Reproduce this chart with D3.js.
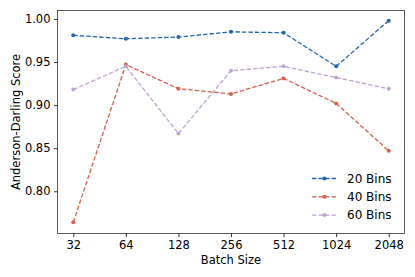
<!DOCTYPE html>
<html>
<head>
<meta charset="utf-8">
<style>
html, body { margin: 0; background: #fff; }
text { font-family: "DejaVu Sans", sans-serif; fill: #000; }
.axis text { font-size: 11.5px; }
.axis path, .axis line { stroke: #333; }
</style>
<script src="https://d3js.org/d3.v7.min.js"></script>
</head>
<body>
<svg width="415" height="277"></svg>
<script>
var batchSizes = [32, 64, 128, 256, 512, 1024, 2048];
var bins20 = [0.981, 0.977, 0.979, 0.985, 0.984, 0.945, 0.998];
var bins40 = [0.764, 0.947, 0.919, 0.913, 0.931, 0.902, 0.847];
var bins60 = [0.918, 0.945, 0.867, 0.940, 0.945, 0.932, 0.919];
var seriesNames = ["20 Bins", "40 Bins", "60 Bins"];
var seriesColors = ["#2166ac", "#d6604d", "#c2a5cf"];
var yTicks = [0.80, 0.85, 0.90, 0.95, 1.00];

var series = [bins20, bins40, bins60].map(function(v, i) {
  return { name: seriesNames[i], color: seriesColors[i], values: v };
});

var svg = d3.select("svg");
var plotLeft = 57.5, plotRight = 404.5, plotTop = 10.5, plotBottom = 233.5;

var x = d3.scaleLog().base(2).domain([Math.pow(2, 4.7), Math.pow(2, 11.3)]).range([plotLeft, plotRight]);
var y = d3.scaleLinear().domain([0.751, 1.0098]).range([plotBottom, plotTop]);

var xAxis = svg.append("g")
    .attr("class", "axis")
    .attr("transform", "translate(0," + plotBottom + ")")
    .call(d3.axisBottom(x).tickValues(batchSizes).tickFormat(d3.format("d")).tickSize(3.5).tickPadding(3.5));
xAxis.select(".domain").remove();

var yAxis = svg.append("g")
    .attr("class", "axis")
    .attr("transform", "translate(" + plotLeft + ",0)")
    .call(d3.axisLeft(y).tickValues(yTicks).tickFormat(d3.format(".2f")).tickSize(3.5).tickPadding(3.5));
yAxis.select(".domain").remove();
svg.selectAll(".axis text").attr("fill", "#000");

svg.append("rect")
    .attr("x", plotLeft).attr("y", plotTop)
    .attr("width", plotRight - plotLeft).attr("height", plotBottom - plotTop)
    .attr("fill", "none").attr("stroke", "#333").attr("stroke-width", 0.8);

var line = d3.line()
    .x(function(d, i) { return x(batchSizes[i]); })
    .y(function(d) { return y(d); });

series.forEach(function(s) {
  svg.append("path")
      .datum(s.values)
      .attr("d", line)
      .attr("fill", "none")
      .attr("stroke", s.color)
      .attr("stroke-width", 1.3)
      .attr("stroke-dasharray", "4.5,2");
  svg.append("g").selectAll("circle")
      .data(s.values)
      .enter().append("circle")
      .attr("cx", function(d, i) { return x(batchSizes[i]); })
      .attr("cy", function(d) { return y(d); })
      .attr("r", 2)
      .attr("fill", s.color);
});

var legend = svg.append("g");
series.forEach(function(s, i) {
  var ly = 178.5 + i * 18.3;
  legend.append("line")
      .attr("x1", 312).attr("x2", 337)
      .attr("y1", ly).attr("y2", ly)
      .attr("stroke", s.color)
      .attr("stroke-width", 1.3)
      .attr("stroke-dasharray", "4.5,2");
  legend.append("circle")
      .attr("cx", 324.5).attr("cy", ly).attr("r", 2)
      .attr("fill", s.color);
  legend.append("text")
      .attr("x", 347).attr("y", ly)
      .attr("dy", "0.35em")
      .style("font-size", "12px")
      .text(s.name);
});

svg.append("text")
    .attr("x", (plotLeft + plotRight) / 2).attr("y", 264)
    .attr("text-anchor", "middle")
    .style("font-size", "11.5px")
    .text("Batch Size");

svg.append("text")
    .attr("transform", "translate(20," + ((plotTop + plotBottom) / 2) + ") rotate(-90)")
    .attr("text-anchor", "middle")
    .style("font-size", "11.5px")
    .text("Anderson-Darling Score");
</script>
</body>
</html>
